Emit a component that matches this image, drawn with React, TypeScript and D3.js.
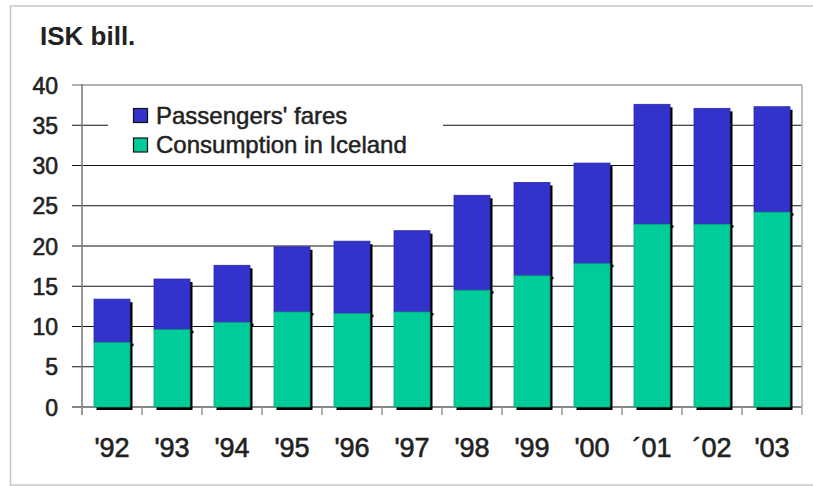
import React, { useEffect, useRef } from 'react';
import * as d3 from 'd3';

const years = ["'92", "'93", "'94", "'95", "'96", "'97", "'98", "'99", "'00", "´01", "´02", "'03"];
const consumption = [8.0, 9.6, 10.5, 11.8, 11.6, 11.8, 14.5, 16.3, 17.8, 22.7, 22.7, 24.2];
const totals = [13.4, 15.9, 17.6, 19.9, 20.6, 21.9, 26.3, 27.9, 30.3, 37.6, 37.1, 37.3];
const yTicks = [0, 5, 10, 15, 20, 25, 30, 35, 40];
const seriesNames = ["Passengers' fares", 'Consumption in Iceland'];

const BLUE = '#3333cc';
const GREEN = '#00cc99';
const FONT = "'Liberation Sans', Arial, sans-serif";

const App = () => {
  const svgRef = useRef<SVGSVGElement>(null);

  useEffect(() => {
    document.body.style.margin = '0';
    if (!svgRef.current) return;
    const svg = d3.select(svgRef.current);
    svg.selectAll('*').remove();

    const width = 813;
    const height = 486;
    const left = 82, right = 802, top = 85, bottom = 407;

    svg.attr('width', width).attr('height', height);

    svg.append('rect').attr('width', width).attr('height', height).attr('fill', '#fff');

    // outer frame
    svg.append('path')
      .attr('d', `M10.5,486 L10.5,6 L813,6 M10,485 L813,485`)
      .attr('fill', 'none')
      .attr('stroke', '#c8c8c8')
      .attr('stroke-width', 1.5);

    const x = d3.scaleBand().domain(years).range([left, right]).paddingInner(0.4).paddingOuter(0.2);
    const y = d3.scaleLinear().domain([0, 40]).range([bottom, top]);

    // title
    svg.append('text')
      .attr('x', 40).attr('y', 45)
      .attr('font-family', FONT).attr('font-size', 26).attr('font-weight', 'bold')
      .attr('fill', '#222')
      .text('ISK bill.');

    // gridlines + ticks
    yTicks.forEach(t => {
      const yy = y(t);
      svg.append('line')
        .attr('x1', left - 10).attr('x2', right)
        .attr('y1', yy).attr('y2', yy)
        .attr('stroke', t === 40 ? '#999' : '#111')
        .attr('stroke-width', t === 40 ? 1.5 : 1.1);
      svg.append('text')
        .attr('x', 58).attr('y', yy + 8.5)
        .attr('text-anchor', 'end')
        .attr('font-family', FONT).attr('font-size', 23)
        .attr('fill', '#222').attr('stroke', '#222').attr('stroke-width', 0.6)
        .text(t);
    });

    // plot right edge
    svg.append('line')
      .attr('x1', right).attr('x2', right).attr('y1', top).attr('y2', bottom + 8)
      .attr('stroke', '#aaa').attr('stroke-width', 1.5);

    // y axis
    svg.append('line')
      .attr('x1', left).attr('x2', left).attr('y1', top - 1).attr('y2', bottom + 8)
      .attr('stroke', '#777').attr('stroke-width', 1.5);

    // category ticks
    const step = x.step();
    years.forEach((_, i) => {
      const xx = left + step * i;
      svg.append('line')
        .attr('x1', xx).attr('x2', xx).attr('y1', bottom).attr('y2', bottom + 8)
        .attr('stroke', '#999').attr('stroke-width', 1.5);
    });

    // legend box (white background hides grid)
    svg.append('rect')
      .attr('x', 108).attr('y', 96).attr('width', 335).attr('height', 66)
      .attr('fill', '#fff');

    // bars
    const g = svg.append('g');
    years.forEach((yr, i) => {
      const bx = x(yr)!;
      const bw = x.bandwidth();
      const yTop = y(totals[i]);
      const ySplit = y(consumption[i]);
      // shadow
      g.append('rect')
        .attr('x', bx + 2.5).attr('y', yTop + 3)
        .attr('width', bw).attr('height', bottom - yTop)
        .attr('fill', '#000');
      g.append('rect')
        .attr('x', bx + bw + 1).attr('y', ySplit + 1)
        .attr('width', 2.5).attr('height', 2.5)
        .attr('fill', '#000');
      g.append('rect')
        .attr('x', bx).attr('y', yTop)
        .attr('width', bw).attr('height', ySplit - yTop)
        .attr('fill', BLUE).attr('stroke', '#2a2aa8').attr('stroke-width', 0.8);
      g.append('rect')
        .attr('x', bx).attr('y', ySplit)
        .attr('width', bw).attr('height', bottom - ySplit)
        .attr('fill', GREEN).attr('stroke', '#0aa57e').attr('stroke-width', 0.8);
    });

    // x labels
    years.forEach(yr => {
      svg.append('text')
        .attr('x', x(yr)! + x.bandwidth() / 2).attr('y', 457)
        .attr('text-anchor', 'middle')
        .attr('font-family', FONT).attr('font-size', 27)
        .attr('fill', '#222').attr('stroke', '#222').attr('stroke-width', 0.6)
        .text(yr);
    });

    // legend
    const colors = [BLUE, GREEN];
    seriesNames.forEach((name, i) => {
      const ly = 108 + i * 29.5;
      svg.append('rect')
        .attr('x', 133.5).attr('y', ly + 0.5)
        .attr('width', 14).attr('height', 14)
        .attr('fill', colors[i]).attr('stroke', '#111').attr('stroke-width', 1.2);
      svg.append('text')
        .attr('x', 156).attr('y', ly + 15.5)
        .attr('font-family', FONT).attr('font-size', 24)
        .attr('fill', '#222').attr('stroke', '#222').attr('stroke-width', 0.5)
        .text(name);
    });
  }, []);

  return (
    <div style={{ position: 'absolute', left: 0, top: 0 }}>
      <svg ref={svgRef} style={{ display: 'block' }}></svg>
    </div>
  );
};

export default App;
